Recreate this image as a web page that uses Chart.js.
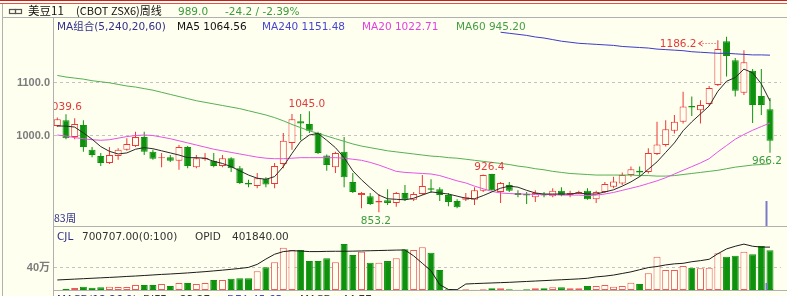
<!DOCTYPE html>
<html>
<head>
<meta charset="utf-8">
<script src="https://cdn.jsdelivr.net/npm/chart.js@4.4.1/dist/chart.umd.min.js"></script>
<style>
html, body { margin: 0; padding: 0; background: #fffff0; }
#wrap { position: relative; width: 787px; height: 296px; overflow: hidden; }
</style>
</head>
<body>
<div id="wrap"><canvas id="chart" width="787" height="296"></canvas></div>
<script>
// weekly candles, oldest first (83 weeks)
const opens = [1017,1028,996,1019,972,960,947,960,972,979, 996,968,956,958,951,977,939,954,951,941,
  956,937,909,903,917,907,945,985,1026,1021, 1004,961,939,968,911,886,884,872,876,871,
  890,877,888,899,897,886,875,877,877,894, 926,892,905,890,888,882,888,884,894,886,
  889,894,878,892,902,908,924,932,930,964, 981,1008,1025,1055,1047,1059,1095,1178,1142,1080,
  1122,1074,1049];
const highs = [1033,1039.6,1032,1028,977,966,977,975,994,1006, 1006,972,966,962,981,979,962,966,966,962,
  958,941,915,928,920,947,1004,1040,1040,1045, 1006,963,968,996,928,892,890,888,897,892,
  905,892,924,916,901,890,878,890,901,925, 926.4,911,911,895,892,895,892,899,901,894,
  894,899,894,911,921,929,940,940,975,1025, 1028,1038,1082,1073,1066,1093,1180,1186.2,1146,1161,
  1125,1125,1070];
const lows = [1015,992,992,968,958,941,945,953,970,977, 962,953,939,949,934,937,937,951,939,939,
  930,907,901,899,901,899,937,972,990,1004, 964,932,928,901,890,861,867,853.2,867,864,
  875,875,886,890,875,865,861,875,867,892, 894,871,892,882,869,873,882,882,884,882,
  888,877,871,890,899,905,921,921,927,962, 978,1003,1022,1036,1022,1055,1093,1111,1073,1076,
  1023,1038,966.2];
const closes = [1030,994,1021,977,962,947,962,972,983,996, 968,955,958,951,977,941,956,957,941,956,
  937,909,906,918,906,941,989,1030,1022,1008, 966,943,966,920,892,890,869,875,871,890,
  877,888,903,896,886,873,863,882,895,924, 895,909,894,886,885,890,885,894,886,890,
  892,878,892,907,912,924,935,929,966,982, 1011,1025,1054,1052,1057,1089,1163,1150,1084,1138,
  1057,1057,989];

// moving averages as drawn
const ma5 = [1017,1017,1015,1004,992,978,969,964,966,973, 976,974,970,966,962,957,957,956,950,946,
  940,932,924,918,916,921,940,965,988,1000, 1003,990,976,957,932,915,900,886,879,878,
  877,880,886,892,890,888,884,880,879,885, 892,899,903,901,895,890,888,888,888,888,
  890,888,888,892,896,903,911,921,935,949, 967,985,1008,1025,1040,1055,1083,1102,1109,1125,
  1118,1097,1064.56];
const ma20 = [1000,998,995,993,991,990,991,994,997,999, 1000,999,996,993,989,985,981,977,973,970,
  967,964,961,958,956,955,955,956,957,957, 957,957,957,956,954,952,948,943,937,931,
  929,928,927,926,923,918,913,909,903,898, 893,890,889,888,888,887,887,887,886,886,
  886,885,886,888,891,895,899,903,908,913, 919,926,933,940,947,955,968,980,992,1001,
  1009,1016,1022.71];
const ma60 = [1113,1110,1108,1106,1103,1101,1099,1096,1093,1091, 1088,1085,1081,1077,1073,1069,1065,1062,1059,1056,
  1053,1050,1046,1042,1038,1033,1027,1020,1014,1008, 1003,998,993,988,983,979,976,973,970,968,
  966,964,962,960,959,957,956,954,952,950, 948,946,944,941,939,936,934,931,929,927,
  926,925,924,924,924,924,924,923,923,922, 922,923,925,927,929,931,933,936,939,941,
  943,944,945.2];
const ma240 = [...Array(51).fill(null),
  1195,1193,1191,1189,1186,1184,1181,1178,1176,1174, 1173,1172,1171,1170,1168,1167,1166,1165,1163,1162,
  1161,1160,1158,1157,1156,1155,1155,1154,1153,1152, 1152,1151.48];

// volume (万) and open interest (万)
const volumes = [0,2.3,3.5,5.9,4.1,4.7,5.9,5.3,5.3,8.8, 8.8,8.8,10.6,7.0,12.3,12.3,10.6,12.3,17.6,17.6,
  20.0,20.6,20.6,32.9,40.0,48.8,74.5,70.5,70.5,51.0, 51.0,55.8,48.8,81.0,61.7,67.5,48.1,48.1,51.0,55.8,
  71.7,70.5,75.2,65.8,35.2,1.2,0.4,1.2,0.6,1.2, 2.9,2.9,1.2,0.5,1.2,2.9,2.9,4.7,4.7,2.9,
  2.9,7.0,7.0,8.8,5.9,7.0,12.9,10.6,29.4,58.7, 35.2,35.2,42.3,39.3,38.2,39.3,64.6,58.7,60.5,67.5,
  62.9,77.5,70.0707];
const opid = [9.4,9.8,10.2,10.6,11.0,11.4,11.8,12.2,12.7,13.1, 13.6,14.1,14.6,15.0,15.5,16.0,16.6,17.2,17.9,18.6,
  19.4,20.2,21.2,24,29,33.5,36,36.8,36.5,36, 36,36.2,36.3,36.3,36.4,36.6,36.8,37,37.2,37.4,
  37.5,32,25,18,5,0.5,0.3,5.6,6.0,6.3, 6.6,6.9,7.2,7.6,8.0,8.4,8.8,9.2,9.6,10.0,
  10.4,11.0,12.3,13,14,15.5,17,19,21,22, 23.5,24.5,25,26.5,27.5,28.8,34,38.5,41,43,
  41,40.2,40.184];

const priceTicks = [1000, 1100];
const volTicks = [40];
// marked extremes: [week index, 'high' | 'low' | 'arrow']
const marks = [[1, 'high'], [29, 'high'], [50, 'high'], [37, 'low'], [77, 'arrow'], [82, 'low']];

const BG = '#fffff0';
const UP = '#ee3636', DOWN = '#0e920e', VUP = '#ec5a5a';
const FONT = '"DejaVu Sans", "Noto Sans CJK SC", sans-serif';
const CJK = '"Noto Sans CJK SC", "DejaVu Sans", sans-serif';

const idx = opens.map((_, i) => i);
const up = i => closes[i] >= opens[i];
const pts = arr => idx.filter(i => arr[i] != null).map(i => ({ x: i, y: arr[i] }));
const last = arr => arr[arr.length - 1];

function txt(ctx, s, x, y, color, font, align) {
  ctx.font = font;
  ctx.fillStyle = color;
  ctx.textAlign = align || 'left';
  ctx.fillText(s, x, y);
}

const frame = {
  id: 'frame',
  beforeDraw(chart) {
    const ctx = chart.ctx, a = chart.chartArea, W = chart.width, H = chart.height;
    ctx.save();
    ctx.fillStyle = BG;
    ctx.fillRect(0, 0, W, H);
    ctx.fillStyle = '#c81e1e'; ctx.fillRect(0, 0, W, 1);
    ctx.fillStyle = '#e25050'; ctx.fillRect(0, 3, W, 1);
    ctx.fillStyle = '#b0b0b0';
    ctx.fillRect(2, 4, 1, H - 4);
    ctx.fillRect(3, 17, W - 3, 1);
    ctx.fillRect(a.left - 1, 18, 1, H - 18);
    ctx.fillRect(a.left - 1, 226, W - a.left + 1, 1);
    ctx.fillRect(a.left - 1, 290, W - a.left + 1, 1);

    // chain icon
    ctx.strokeStyle = '#555'; ctx.lineWidth = 1.2;
    ctx.strokeRect(9.5, 9.5, 6, 4);
    ctx.strokeRect(15.5, 9.5, 6, 4);

    ctx.textBaseline = 'alphabetic';
    txt(ctx, '美豆11', 28, 15, '#111', '11.5px ' + CJK);
    txt(ctx, '(CBOT ZSX6)周线', 76, 15, '#111', '11px ' + CJK);
    txt(ctx, last(closes).toFixed(1), 178, 15, '#3c9c3c', '10.5px ' + FONT);
    txt(ctx, '-24.2 / -2.39%', 225, 15, '#3c9c3c', '10.5px ' + FONT);

    txt(ctx, 'MA组合(5,240,20,60)', 57, 30, '#30308c', '10.5px ' + FONT);
    txt(ctx, 'MA5 ' + last(ma5).toFixed(2), 177, 30, '#111', '10.5px ' + FONT);
    txt(ctx, 'MA240 ' + last(ma240).toFixed(2), 262, 30, '#4646d2', '10.5px ' + FONT);
    txt(ctx, 'MA20 ' + last(ma20).toFixed(2), 362, 30, '#e040e0', '10.5px ' + FONT);
    txt(ctx, 'MA60 ' + last(ma60).toFixed(2), 456, 30, '#44a044', '10.5px ' + FONT);

    // dashed grid + left labels
    const y = chart.scales.y, yv = chart.scales.yv;
    ctx.strokeStyle = '#c2c2c2'; ctx.lineWidth = 1; ctx.setLineDash([3, 3]);
    const rows = priceTicks.map(v => [y.getPixelForValue(v), v.toFixed(1)])
      .concat(volTicks.map(v => [yv.getPixelForValue(v), v + '万']));
    rows.forEach(([py, label]) => {
      const yy = Math.round(py) + 0.5;
      ctx.beginPath(); ctx.moveTo(a.left, yy); ctx.lineTo(781, yy); ctx.stroke();
      ctx.textBaseline = 'middle';
      txt(ctx, label, 50, yy, '#7c7c7c', 'bold 11px "Liberation Sans", ' + CJK, 'right');
    });
    ctx.restore();
  },
  afterDatasetsDraw(chart) {
    const ctx = chart.ctx, a = chart.chartArea;
    const x = chart.scales.x, y = chart.scales.y;
    ctx.save();
    ctx.beginPath(); ctx.rect(a.left, 0, chart.width - a.left, chart.height); ctx.clip();
    ctx.textBaseline = 'alphabetic';
    const f = '10.5px ' + FONT;
    marks.forEach(([i, kind]) => {
      const px = x.getPixelForValue(i);
      if (kind === 'high') {
        txt(ctx, highs[i].toFixed(1), px - 2.5, y.getPixelForValue(highs[i]) - 4, '#e03c3c', f, 'center');
      } else if (kind === 'low') {
        txt(ctx, lows[i].toFixed(1), px - 3, y.getPixelForValue(lows[i]) + 11.5, '#3c9c3c', f, 'center');
      } else {
        const py = y.getPixelForValue(highs[i]);
        const ay = Math.round(py + 6) + 0.5;
        txt(ctx, highs[i].toFixed(1), px - 30, py + 10, '#e03c3c', f, 'right');
        ctx.strokeStyle = '#e03c3c'; ctx.lineWidth = 1;
        ctx.setLineDash([1, 2]);
        ctx.beginPath(); ctx.moveTo(px - 27, ay); ctx.lineTo(px - 9, ay); ctx.stroke();
        ctx.setLineDash([]);
        ctx.beginPath();
        ctx.moveTo(px - 24, ay - 2.5); ctx.lineTo(px - 28, ay); ctx.lineTo(px - 24, ay + 2.5);
        ctx.stroke();
      }
    });

    // current-week marker
    const mx = Math.round(x.getPixelForValue(opens.length - 1.5)) + 0.5;
    ctx.strokeStyle = '#7a7ac8'; ctx.lineWidth = 2;
    ctx.beginPath(); ctx.moveTo(mx, 201); ctx.lineTo(mx, 226); ctx.stroke();
    ctx.beginPath(); ctx.moveTo(mx, 283); ctx.lineTo(mx, 290); ctx.stroke();

    txt(ctx, opens.length + '周', 54, 222, '#30308c', '10.5px ' + CJK);

    txt(ctx, 'CJL', 57, 240, '#30308c', f);
    txt(ctx, Math.round(last(volumes) * 10000).toFixed(2) + '(0:100)', 82, 240, '#333', f);
    txt(ctx, 'OPID', 195, 240, '#333', f);
    txt(ctx, Math.round(last(opid) * 10000).toFixed(2), 232, 240, '#333', f);

    // next pane's caption, cut off by the window
    const by = 302.5;
    txt(ctx, 'MACD(12,26,9)', 57, by, '#30308c', f);
    txt(ctx, 'DIFF', 143, by, '#333', f);
    txt(ctx, '23.27', 180, by, '#333', f);
    txt(ctx, 'DEA', 227, by, '#4646d2', f);
    txt(ctx, '45.65', 252, by, '#4646d2', f);
    txt(ctx, 'MACD', 300, by, '#333', f);
    txt(ctx, '-44.77', 338, by, '#333', f);
    ctx.restore();
  }
};

const line = (data, axis, color) => ({
  type: 'line', data, yAxisID: axis, borderColor: color, borderWidth: 1,
  pointRadius: 0, tension: 0, order: 1
});

new Chart(document.getElementById('chart'), {
  type: 'bar',
  data: {
    datasets: [
      line(pts(ma5), 'y', '#2a2a2a'),
      line(pts(ma20), 'y', '#e653e6'),
      line(pts(ma60), 'y', '#55b055'),
      line(pts(ma240), 'y', '#3c3cc8'),
      line(pts(opid), 'yo', '#1c1c1c'),
      {
        label: 'body', yAxisID: 'y', order: 4, grouped: false, barThickness: 7,
        data: idx.map(i => ({ x: i, y: [opens[i], closes[i]] })),
        backgroundColor: c => up(c.dataIndex) ? BG : DOWN,
        borderColor: c => up(c.dataIndex) ? UP : DOWN,
        borderWidth: 1, borderSkipped: false, inflateAmount: 0
      },
      {
        label: 'wick', yAxisID: 'y', order: 5, grouped: false, barThickness: 1,
        data: idx.map(i => ({ x: i, y: [lows[i], highs[i]] })),
        backgroundColor: c => up(c.dataIndex) ? UP : DOWN,
        borderWidth: 0, inflateAmount: 0
      },
      {
        label: 'vol', yAxisID: 'yv', order: 4, grouped: false, barThickness: 7,
        data: idx.map(i => ({ x: i, y: volumes[i] })),
        backgroundColor: c => up(c.dataIndex) ? BG : DOWN,
        borderColor: c => up(c.dataIndex) ? VUP : DOWN,
        borderWidth: 1, borderSkipped: false, inflateAmount: 0
      }
    ]
  },
  options: {
    responsive: false,
    animation: false,
    devicePixelRatio: 1,
    layout: { padding: { left: 54, right: 1, top: 18, bottom: 6 } },
    plugins: { legend: { display: false }, tooltip: { enabled: false } },
    scales: {
      x: { type: 'linear', min: -0.38, max: 83.84, offset: false, display: false },
      y: { type: 'linear', min: 705.9, max: 1222, beginAtZero: false, display: false },
      yv: { type: 'linear', min: 0, max: 479.3, display: false },
      yo: { type: 'linear', min: 0, max: 254.9, display: false }
    }
  },
  plugins: [frame]
});
</script>
</body>
</html>
